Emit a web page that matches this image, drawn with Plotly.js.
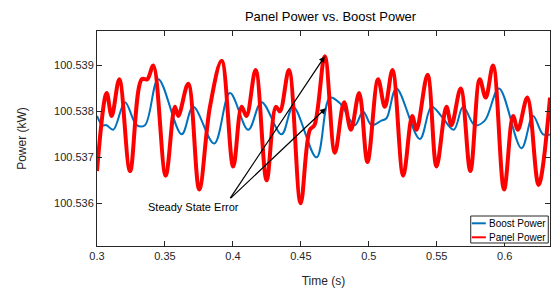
<!DOCTYPE html>
<html>
<head>
<meta charset="utf-8">
<script src="https://cdn.plot.ly/plotly-3.0.1.min.js"></script>
<style>html,body{margin:0;padding:0;background:#fff;}#chart{width:555px;height:291px;}</style>
</head>
<body>
<div id="chart"></div>
<script>
// Panel power (red) (time s, power kW)
const panelTime = [0.3000,0.3071,0.3108,0.3164,0.3243,0.3329,0.3370,0.3414,0.3505,0.3573,0.3598,0.3671,0.3752,0.3831,0.3917,0.4002,0.4064,0.4100,0.4167,0.4248,0.4316,0.4346,0.4412,0.4498,0.4566,0.4600,0.4676,0.4750,0.4818,0.4868,0.4929,0.4990,0.5068,0.5118,0.5174,0.5253,0.5319,0.5351,0.5432,0.5498,0.5571,0.5608,0.5676,0.5747,0.5816,0.5860,0.5914,0.5995,0.6061,0.6097,0.6166,0.6249,0.6333];
const panelPower = [100.5367,100.5384,100.5379,100.5387,100.5367,100.5387,100.5387,100.5390,100.5366,100.5381,100.5379,100.5386,100.5363,100.5381,100.5391,100.5368,100.5381,100.5379,100.5389,100.5365,100.5381,100.5380,100.5389,100.5360,100.5376,100.5377,100.5392,100.5371,100.5382,100.5376,100.5384,100.5369,100.5387,100.5381,100.5389,100.5366,100.5379,100.5376,100.5388,100.5368,100.5381,100.5377,100.5385,100.5367,100.5387,100.5383,100.5390,100.5363,100.5379,100.5376,100.5383,100.5364,100.5383];
// Boost power (blue)
const boostTime = [0.3000,0.3040,0.3070,0.3120,0.3206,0.3292,0.3353,0.3451,0.3623,0.3708,0.3862,0.3978,0.4113,0.4211,0.4358,0.4443,0.4615,0.4713,0.4787,0.4897,0.4958,0.5020,0.5093,0.5130,0.5203,0.5375,0.5461,0.5533,0.5625,0.5694,0.5779,0.5853,0.5958,0.6123,0.6208,0.6282,0.6333];
const boostPower = [100.5379,100.5377,100.5377,100.5376,100.5382,100.5377,100.5377,100.5387,100.5375,100.5381,100.5373,100.5384,100.5376,100.5382,100.5375,100.5381,100.5370,100.5383,100.53818,100.5377,100.5380,100.5377,100.5378,100.53785,100.5385,100.5374,100.5381,100.5379,100.5376,100.5381,100.5377,100.5378,100.5385,100.5372,100.5379,100.5375,100.5375];
const seriesNames = ['Boost Power','Panel Power'];
const seriesColors = ['#0072BD','#FF0000'];
const xTicks = [0.3,0.35,0.4,0.45,0.5,0.55,0.6];
const xTickText = ['0.3','0.35','0.4','0.45','0.5','0.55','0.6'];
const yTicks = [100.536,100.537,100.538,100.539];
const yTickText = ['100.536','100.537','100.538','100.539'];

const axisColor = '#262626';
const fam = 'Liberation Sans, Arial, sans-serif';

const traces = [
  {x:boostTime, y:boostPower, name:seriesNames[0], mode:'lines',
   line:{color:seriesColors[0], width:2, shape:'spline', smoothing:1}},
  {x:panelTime, y:panelPower, name:seriesNames[1], mode:'lines',
   line:{color:seriesColors[1], width:4, shape:'spline', smoothing:1}}
];

// legend drawn as a MATLAB-style compact box (paper coords of plot area)
const lg = {x0:0.825, x1:0.9962, y0:0.014, y1:0.1395, sx0:0.8274, sx1:0.8583, tx:0.860, rows:[0.1056,0.0405]};
const shapes = [
  {type:'rect', xref:'paper', yref:'paper', x0:lg.x0, x1:lg.x1, y0:lg.y0, y1:lg.y1,
   line:{color:'#262626', width:1}, fillcolor:'#fff', layer:'above'}
];
const legendAnns = [];
seriesNames.forEach((n,i)=>{
  shapes.push({type:'line', xref:'paper', yref:'paper', x0:lg.sx0, x1:lg.sx1, y0:lg.rows[i], y1:lg.rows[i],
               line:{color:seriesColors[i], width:2}, layer:'above'});
  legendAnns.push({xref:'paper', yref:'paper', x:lg.tx, y:lg.rows[i], text:n, showarrow:false,
                   xanchor:'left', yanchor:'middle', font:{size:10, color:'#000', family:fam}});
});

const layout = {
  width:555, height:291,
  margin:{l:97, r:5, t:31, b:45, pad:0},
  paper_bgcolor:'#fff', plot_bgcolor:'#fff',
  font:{family:fam, size:11, color:axisColor},
  showlegend:false,
  title:{text:'Panel Power vs. Boost Power', font:{size:13, color:'#000', family:fam},
         x:0.5155, xanchor:'center', y:1-16/291, yanchor:'middle', xref:'paper', yref:'container'},
  xaxis:{range:[0.3,0.6333], tickvals:xTicks, ticktext:xTickText,
         showline:true, linecolor:axisColor, linewidth:1, mirror:'ticks',
         ticks:'inside', ticklen:5, tickcolor:axisColor, showgrid:false, zeroline:false,
         tickfont:{size:11, color:axisColor},
         title:{text:'Time (s)', font:{size:12, color:axisColor}, standoff:15}},
  yaxis:{range:[100.53507,100.53975], tickvals:yTicks, ticktext:yTickText,
         showline:true, linecolor:axisColor, linewidth:1, mirror:'ticks',
         ticks:'inside', ticklen:5, tickcolor:axisColor, showgrid:false, zeroline:false,
         tickfont:{size:11, color:axisColor},
         title:{text:'Power (kW)', font:{size:12, color:axisColor}, standoff:24}},
  shapes:shapes,
  annotations:[
    {x:0.4676, y:100.5392, ax:0.3973, ay:100.53608, xref:'x', yref:'y', axref:'x', ayref:'y',
     showarrow:true, arrowhead:2, arrowsize:1, arrowwidth:1.2, arrowcolor:'#000', text:''},
    {x:0.4684, y:100.53807, ax:0.3973, ay:100.53608, xref:'x', yref:'y', axref:'x', ayref:'y',
     showarrow:true, arrowhead:2, arrowsize:1, arrowwidth:1.2, arrowcolor:'#000', text:''},
    {x:0.3713, y:100.53592, xref:'x', yref:'y', showarrow:false, text:'Steady State Error',
     font:{size:11, color:'#000', family:fam}, xanchor:'center', yanchor:'middle'}
  ].concat(legendAnns)
};

Plotly.newPlot('chart', traces, layout, {staticPlot:true, displayModeBar:false});
</script>
</body>
</html>
